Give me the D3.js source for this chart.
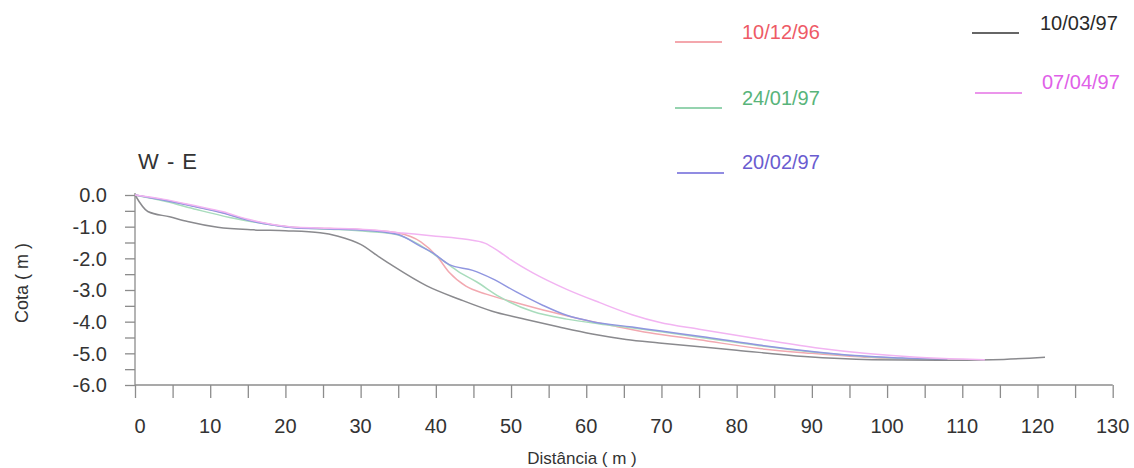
<!DOCTYPE html>
<html><head><meta charset="utf-8">
<script src="https://cdn.jsdelivr.net/npm/d3@7"></script>
<style>html,body{margin:0;padding:0;background:#fff;}svg{display:block;font-family:Arial,"Liberation Sans",sans-serif;}</style>
</head><body><svg id="c" width="1134" height="468"></svg>
<script>
const seriesNames = ["10/12/96","24/01/97","20/02/97","10/03/97","07/04/97"];
const lineColors = ["#f2a8b0","#a8dcbc","#9096e0","#8a8a8e","#f2b4f2"];
const legendLineColors = ["#f08a92","#72c494","#6c66d8","#333333","#e472e4"];
const legendTextColors = ["#ee5a66","#58b47a","#6a5cd0","#2a2a2a","#e060e8"];
const xTicks = [0,10,20,30,40,50,60,70,80,90,100,110,120,130];
const yTicks = [0,-1,-2,-3,-4,-5,-6];

const s1012 = [[0,0],[3.7,-0.15],[8.2,-0.37],[11.7,-0.56],[14.9,-0.78],[18.3,-0.94],[21.5,-1.03],[25.9,-1.06],[31,-1.11],[35,-1.2],[38,-1.48],[40.2,-1.95],[41.8,-2.45],[44,-2.88],[46.7,-3.13],[50.7,-3.4],[55.1,-3.68],[59.5,-3.93],[64,-4.15],[68.4,-4.35],[75,-4.57],[83,-4.85],[90,-5.0],[97,-5.12],[103,-5.17],[108,-5.2]];
const s2401 = [[0,0],[4,-0.2],[8.2,-0.46],[12.6,-0.71],[17,-0.9],[21,-1.03],[26,-1.08],[31,-1.15],[35,-1.26],[38,-1.6],[41,-2.08],[43,-2.42],[45.4,-2.74],[48.5,-3.22],[52.9,-3.68],[57.4,-3.92],[61.8,-4.07],[66,-4.19],[70,-4.32],[76,-4.52],[83,-4.76],[90,-4.96],[97,-5.1],[103,-5.17],[108,-5.2]];
const s2002 = [[0,0],[3.7,-0.16],[8.2,-0.38],[11.7,-0.57],[14.9,-0.79],[18.3,-0.95],[21.5,-1.04],[25.9,-1.07],[31,-1.12],[35,-1.25],[37.8,-1.6],[39.6,-1.83],[41.8,-2.2],[44.9,-2.38],[47.5,-2.64],[50.7,-3.06],[54.2,-3.48],[57.4,-3.8],[60.8,-4.0],[66.1,-4.17],[69.7,-4.29],[76,-4.49],[83,-4.74],[90,-4.94],[96.3,-5.08],[102,-5.15],[108,-5.2]];
const s1003 = [[0,0],[1.7,-0.52],[4.6,-0.69],[7,-0.84],[11,-1.02],[15.7,-1.1],[20,-1.13],[24.6,-1.19],[27,-1.3],[30,-1.56],[32.5,-1.96],[34.3,-2.24],[38.8,-2.87],[43.2,-3.3],[47.5,-3.67],[52,-3.93],[56.4,-4.17],[60.8,-4.39],[65.3,-4.56],[69.7,-4.67],[80,-4.9],[89,-5.1],[98,-5.2],[107,-5.22],[114,-5.2],[121,-5.12]];
const s0704 = [[0,0],[3.7,-0.13],[8.2,-0.35],[11.7,-0.53],[14.9,-0.76],[18.3,-0.93],[21.5,-1.02],[25.9,-1.05],[31.2,-1.1],[35.6,-1.2],[40,-1.3],[44,-1.4],[46.5,-1.52],[48.5,-1.8],[50,-2.05],[52.9,-2.46],[57.4,-2.98],[61.8,-3.4],[66.1,-3.78],[69.7,-4.02],[75,-4.24],[83,-4.55],[91,-4.84],[97,-5.0],[104,-5.12],[110,-5.18],[113,-5.2]];
const seriesData = [s1012,s2401,s2002,s1003,s0704];

const svg = d3.select("#c");
const x = d3.scaleLinear().domain([0,130]).range([135,1112.7]);
const y = d3.scaleLinear().domain([0,-6]).range([195,385]);
const axisColor = "#8c8c8c", textColor = "#333";

// y axis
const yAx = svg.append("g").attr("transform","translate(135,0)")
  .call(d3.axisLeft(y).tickValues(d3.range(0,-6.01,-0.5)).tickSize(10).tickFormat(""));
yAx.select(".domain").attr("stroke",axisColor).attr("stroke-width",1.3).attr("d","M0,193V385");
yAx.selectAll(".tick line").attr("stroke",axisColor).attr("stroke-width",1.3);
svg.append("g").selectAll("text").data(yTicks).join("text")
  .attr("x",107).attr("y",d=>y(d)).attr("dy","0.36em").attr("text-anchor","end")
  .attr("font-size",20).attr("fill",textColor).text(d=>d3.format(".1f")(d).replace("−","-"));

// x axis
const xAx = svg.append("g").attr("transform","translate(0,385)")
  .call(d3.axisBottom(x).tickValues(d3.range(0,130.1,5)).tickSize(13).tickFormat(""));
xAx.select(".domain").attr("stroke",axisColor).attr("stroke-width",1.3).attr("d","M135,0H1112.7");
xAx.selectAll(".tick line").attr("stroke",axisColor).attr("stroke-width",1.3);
svg.append("g").selectAll("text").data(xTicks).join("text")
  .attr("x",d=>x(d)+(d===0?5:0)).attr("y",426).attr("dy","0.36em").attr("text-anchor","middle")
  .attr("font-size",20).attr("fill",textColor).text(d=>d);

// titles
svg.append("text").attr("x",138).attr("y",161).attr("dy","0.36em").attr("font-size",22).attr("fill",textColor)
  .attr("letter-spacing",1).text("W - E");
svg.append("text").attr("transform","translate(22,283) rotate(-90)").attr("text-anchor","middle").attr("dy","0.36em")
  .attr("font-size",18).attr("fill",textColor).text("Cota ( m )");
svg.append("text").attr("x",582).attr("y",458).attr("dy","0.36em").attr("text-anchor","middle")
  .attr("font-size",17).attr("fill",textColor).text("Distância ( m )");

// lines
const line = d3.line().x(d=>x(d[0])).y(d=>y(d[1])).curve(d3.curveMonotoneX);
svg.append("g").selectAll("path").data(seriesData).join("path")
  .attr("d",line).attr("fill","none").attr("stroke",(d,i)=>lineColors[i]).attr("stroke-width",1.5);

// legend
const legendPos = [[675,42,742,32],[675,108,742,98],[677,173,742,162],[972,33,1040,23],[975,93,1042,82]];
const lg = svg.append("g");
seriesNames.forEach((n,i)=>{
  const p = legendPos[i];
  lg.append("line").attr("x1",p[0]).attr("x2",p[0]+47).attr("y1",p[1]).attr("y2",p[1])
    .attr("stroke",legendLineColors[i]).attr("stroke-width",1.6);
  lg.append("text").attr("x",p[2]).attr("y",p[3]).attr("dy","0.36em").attr("font-size",20)
    .attr("fill",legendTextColors[i]).text(n);
});
</script></body></html>
